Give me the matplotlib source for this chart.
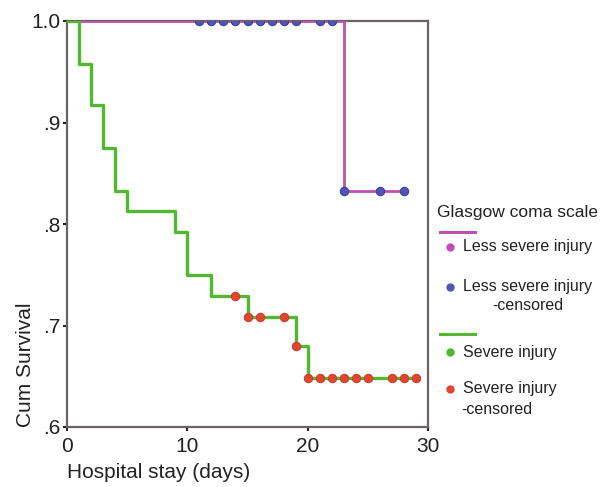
import matplotlib.pyplot as plt
from matplotlib.lines import Line2D

# ── Datos ─────────────────────────────────────────────────────────────────────
less_times = [0, 23, 28]
less_surv = [1.0, 0.833, 0.833]
less_cens_t = [11, 12, 13, 14, 15, 16, 17, 18, 19, 21, 22, 23, 26, 28]
less_cens_s = [1.0] * 11 + [0.833] * 3

sev_times = [0, 1, 2, 3, 4, 5, 9, 10, 12, 15, 19, 20, 29]
sev_surv = [1.0, 0.958, 0.917, 0.875, 0.833, 0.8125, 0.792, 0.75, 0.729,
            0.708, 0.680, 0.648, 0.648]
sev_cens_t = [14, 15, 16, 18, 19, 20, 21, 22, 23, 24, 25, 27, 28, 29]
sev_cens_s = [0.729, 0.708, 0.708, 0.708, 0.680] + [0.648] * 9

yticks = [0.6, 0.7, 0.8, 0.9, 1.0]
ytick_labels = [".6", ".7", ".8", ".9", "1.0"]
xticks = [0, 10, 20, 30]

PURPLE = "#c04fb4"
BLUE = "#5454b4"
GREEN = "#52b830"
RED = "#e2452e"
FRAME = "#6b6462"
TEXT = "#222222"

plt.rcParams["font.family"] = ["Liberation Sans", "DejaVu Sans"]

W, H = 613, 487
fig = plt.figure(figsize=(W / 100, H / 100), dpi=100)


def px(x):
    return x / W


def py(y):
    return 1 - y / H


ax = fig.add_axes([px(67), py(427), px(428) - px(67), py(21) - py(427)])

ax.step(less_times, less_surv, where="post", color=PURPLE, lw=2.0, zorder=3)
ax.step(sev_times, sev_surv, where="post", color=GREEN, lw=2.4, zorder=3)
ax.plot(less_cens_t, less_cens_s, "o", color=BLUE, ms=6,
        markeredgecolor="#3d3d9a", mew=0.8, zorder=4)
ax.plot(sev_cens_t, sev_cens_s, "o", color=RED, ms=6,
        markeredgecolor="#c8402a", mew=0.8, zorder=4)

ax.set_xlim(0, 30)
ax.set_ylim(0.6, 1.0)
ax.set_xticks(xticks)
ax.set_yticks(yticks)
ax.set_yticklabels(ytick_labels)
ax.tick_params(labelsize=15, length=3, width=1.5, color="#222222",
               labelcolor=TEXT)
ax.tick_params(axis="x", pad=4)
ax.tick_params(axis="y", pad=2)
for s in ax.spines.values():
    s.set_color(FRAME)
    s.set_linewidth(1.6)

ax.set_xlabel("Hospital stay (days)", fontsize=15, color=TEXT,
              loc="left", labelpad=5)
ax.set_ylabel("Cum Survival", fontsize=15, color=TEXT,
              loc="bottom", labelpad=-3)

# ── Leyenda manual ────────────────────────────────────────────────────────────
fs = 11.5
fig.text(px(437), py(213), "Glasgow coma scale", fontsize=12.5,
         color=TEXT, va="center", ha="left")
fig.add_artist(Line2D([px(440), px(475)], [py(232), py(232)],
                      color=PURPLE, lw=2.2))
fig.add_artist(Line2D([px(450)], [py(247)], marker="o", color=PURPLE,
                      ms=5, lw=0))
fig.text(px(463), py(247), "Less severe injury", fontsize=fs,
         color=TEXT, va="center")
fig.add_artist(Line2D([px(450)], [py(287)], marker="o", color=BLUE,
                      ms=5, lw=0))
fig.text(px(463), py(287), "Less severe injury", fontsize=fs,
         color=TEXT, va="center")
fig.text(px(492), py(306), "-censored", fontsize=fs,
         color=TEXT, va="center")
fig.add_artist(Line2D([px(440), px(475)], [py(334), py(334)],
                      color=GREEN, lw=2.2))
fig.add_artist(Line2D([px(450)], [py(352)], marker="o", color=GREEN,
                      ms=5, lw=0))
fig.text(px(463), py(352), "Severe injury", fontsize=fs,
         color=TEXT, va="center")
fig.add_artist(Line2D([px(450)], [py(389)], marker="o", color=RED,
                      ms=5, lw=0))
fig.text(px(463), py(389), "Severe injury", fontsize=fs,
         color=TEXT, va="center")
fig.text(px(461), py(409), "-censored", fontsize=fs,
         color=TEXT, va="center")

fig.savefig("out.png", dpi=100)
